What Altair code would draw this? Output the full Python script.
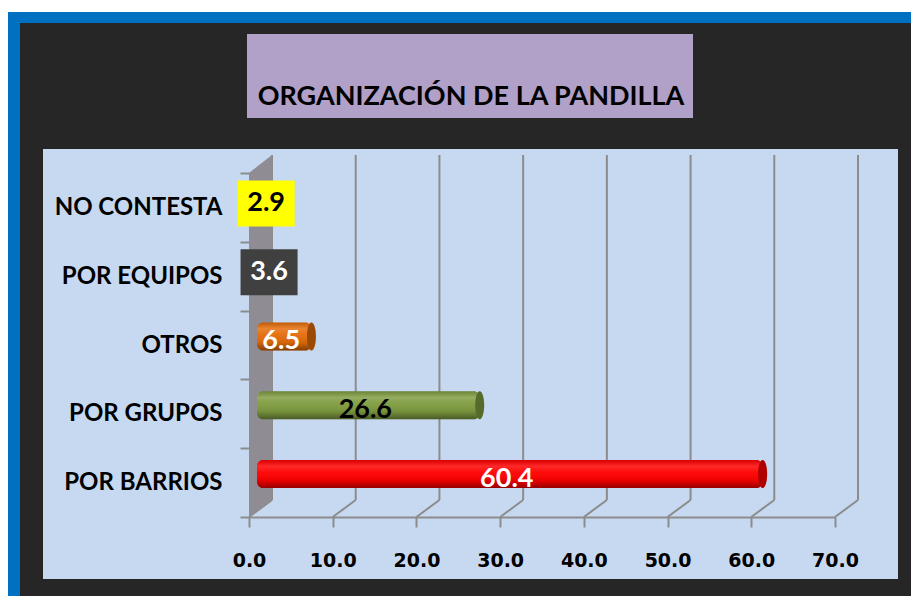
import altair as alt
import pandas as pd

# ---------------- data ----------------
categories = ["NO CONTESTA", "POR EQUIPOS", "OTROS", "POR GRUPOS", "POR BARRIOS"]
values = [2.9, 3.6, 6.5, 26.6, 60.4]
x_ticks = [0, 10, 20, 30, 40, 50, 60, 70]
title_text = "ORGANIZACIÓN DE LA PANDILLA"

# ---------------- styles ----------------
bar_colors = {"NO CONTESTA": "#ffff00", "POR EQUIPOS": "#404040", "OTROS": "#e46c0a",
              "POR GRUPOS": "#7f9c40", "POR BARRIOS": "#ff0000"}
label_colors = {"NO CONTESTA": "#000000", "POR EQUIPOS": "#ffffff", "OTROS": "#ffffff",
                "POR GRUPOS": "#000000", "POR BARRIOS": "#ffffff"}
box_fills = {"NO CONTESTA": "#ffff00", "POR EQUIPOS": "#404040"}

df = pd.DataFrame({"cat": categories, "val": values})
df["half"] = df["val"] / 2
df["txtcol"] = df["cat"].map(label_colors)
box_df = df[df["cat"].isin(list(box_fills))].copy()
box_df["box"] = box_df["cat"].map(box_fills)
tick_df = pd.DataFrame({"t": x_ticks})
one = pd.DataFrame({"d": [0]})

W, H = 855, 430
GRAY = "#8c8c8c"

x_scale = alt.Scale(domain=[0, 70], range=[206, 792], nice=False, zero=True)
y_scale = alt.Scale(domain=categories, range=[24, 368], paddingInner=0, paddingOuter=0)
color_scale = alt.Scale(domain=categories, range=[bar_colors[c] for c in categories])

x_axis = alt.Axis(title=None, values=x_ticks, format=".1f", grid=False, offset=-62,
                  domainColor=GRAY, domainWidth=2, tickColor=GRAY, tickWidth=2, tickSize=10,
                  labelFont="DejaVu Sans", labelFontWeight="bold", labelFontSize=19,
                  labelColor="#000000", labelPadding=24, labelFlush=False, zindex=1)
y_axis = alt.Axis(title=None, grid=False, offset=-206, domain=False, tickBand="extent",
                  tickColor=GRAY, tickWidth=2, tickSize=9,
                  labelFont="Lato", labelFontWeight="bold", labelFontSize=24,
                  labelColor="#000000", labelPadding=18, labelLimit=300, zindex=1)

X = lambda f, **kw: alt.X(f, scale=x_scale, axis=x_axis, **kw)
Y = lambda f: alt.Y(f, scale=y_scale, axis=y_axis, sort=categories)

# ---------------- decorations ----------------
white_top = alt.Chart(one).mark_rect(color="#ffffff").encode(
    x=alt.value(-35), x2=alt.value(870), y=alt.value(-141), y2=alt.value(-137))
blue_top = alt.Chart(one).mark_rect(color="#0070c0").encode(
    x=alt.value(-35), x2=alt.value(870), y=alt.value(-137), y2=alt.value(-126))
blue_left = alt.Chart(one).mark_rect(color="#0070c0").encode(
    x=alt.value(-35), x2=alt.value(-23), y=alt.value(-137), y2=alt.value(460))
title_box = alt.Chart(one).mark_rect(color="#b1a0c7").encode(
    x=alt.value(204), x2=alt.value(650), y=alt.value(-115), y2=alt.value(-31))
title = alt.Chart(one).mark_text(font="Lato", fontWeight="bold", fontSize=27,
                                 color="#000000", align="center", baseline="middle").encode(
    x=alt.value(428), y=alt.value(-52), text=alt.value(title_text))

# back gridlines and floor diagonals (3D look)
back_grid = alt.Chart(tick_df).mark_rule(color=GRAY, strokeWidth=2, xOffset=23).encode(
    x=X("t:Q"), y=alt.value(6), y2=alt.value(351))
floor_diag = alt.Chart(tick_df).mark_rule(color=GRAY, strokeWidth=2, xOffset=0, x2Offset=23).encode(
    x=X("t:Q"), x2=alt.X2("t:Q"), y=alt.value(368), y2=alt.value(351))
wall = alt.Chart(one).mark_point(shape="M0,0L0,-344L23,-362L23,-17Z", size=4, filled=True,
                                 opacity=1, color="#8f8c94", strokeWidth=0).encode(
    x=alt.X(datum=0, type="quantitative", scale=x_scale, axis=x_axis), y=alt.value(368))

# ---------------- bars ----------------
bar_kw = dict(size=28, xOffset=8, x2Offset=8, yOffset=-8.5, cornerRadius=6)
bars = alt.Chart(df).mark_bar(**bar_kw).encode(
    x=X("val:Q", stack=False), x2=alt.X2(datum=0), y=Y("cat:N"),
    color=alt.Color("cat:N", scale=color_scale, legend=None))
shade = alt.Chart(df).mark_bar(
    **bar_kw,
    color=alt.Gradient(gradient="linear", x1=0, x2=0, y1=0, y2=1, stops=[
        alt.GradientStop(offset=0, color="rgba(0,0,0,0.15)"),
        alt.GradientStop(offset=0.22, color="rgba(255,255,255,0.16)"),
        alt.GradientStop(offset=0.45, color="rgba(255,255,255,0.04)"),
        alt.GradientStop(offset=0.72, color="rgba(0,0,0,0.08)"),
        alt.GradientStop(offset=1, color="rgba(0,0,0,0.42)"),
    ])).encode(x=X("val:Q", stack=False), x2=alt.X2(datum=0), y=Y("cat:N"))
ELL = "M0,-1A0.32,1 0 1,1 0,1A0.32,1 0 1,1 0,-1Z"
cap = alt.Chart(df).mark_point(shape=ELL, size=784, filled=True, opacity=1, strokeWidth=0,
                               xOffset=8, yOffset=-8.5).encode(
    x=X("val:Q"), y=Y("cat:N"),
    color=alt.Color("cat:N", scale=color_scale, legend=None))
cap_shade = alt.Chart(df).mark_point(shape=ELL, size=784, filled=True, opacity=0.32,
                                     color="#000000", strokeWidth=0,
                                     xOffset=8, yOffset=-8.5).encode(
    x=X("val:Q"), y=Y("cat:N"))

# ---------------- labels ----------------
boxes = alt.Chart(box_df).mark_point(shape="M-1.24,-1L1.24,-1L1.24,1L-1.24,1Z", size=2116,
                                     filled=True, opacity=1, strokeWidth=0,
                                     xOffset=5, yOffset=-4).encode(
    x=X("half:Q"), y=Y("cat:N"), color=alt.Color("box:N", scale=None))
labels = alt.Chart(df).mark_text(font="Lato", fontWeight="bold", fontSize=27,
                                 align="center", baseline="middle", xOffset=5, yOffset=-4).encode(
    x=X("half:Q"), y=Y("cat:N"), text=alt.Text("val:Q", format=".1f"),
    color=alt.Color("txtcol:N", scale=None))

chart = alt.layer(
    white_top, blue_top, blue_left, title_box, title,
    back_grid, floor_diag, wall,
    bars, shade, cap, cap_shade, boxes, labels,
).properties(
    width=W, height=H,
    padding={"left": 35, "top": 141, "right": 13, "bottom": 17},
    autosize=alt.AutoSizeParams(type="none"),
    background="#262626",
).configure_view(fill="#c6d9f1", stroke="#c6d9f1", strokeWidth=0)

chart.save("out.html", embed_options={"renderer": "svg", "actions": False})
